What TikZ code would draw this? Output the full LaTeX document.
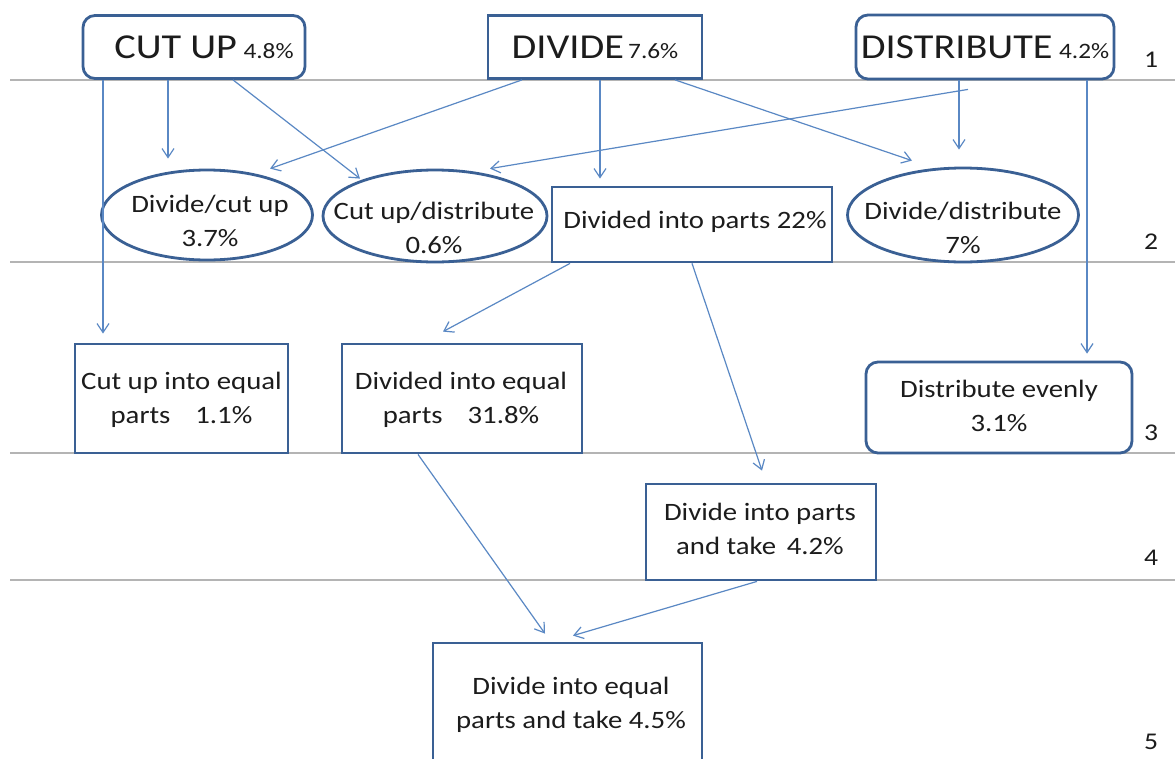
\documentclass[tikz,border=0pt]{standalone}
\usepackage{fontspec}
\setmainfont{Carlito}[FakeStretch=1.15]
\usetikzlibrary{arrows.meta,shapes.geometric}
\definecolor{boxc}{HTML}{3A6094}
\definecolor{arrc}{HTML}{5A88C4}
\definecolor{grayl}{HTML}{B4B4B4}
\definecolor{txtc}{HTML}{1C1C1C}
\tikzset{
  base/.style={draw=boxc, line width=2.8pt, fill=white, inner sep=0pt, text=txtc, align=center},
  rectbox/.style={base, rectangle},
  rbox/.style={base, rectangle, rounded corners=12pt},
  ellbox/.style={base, ellipse},
  lbl/.style={text=txtc, align=center, inner sep=0pt, font=\fontsize{25}{34}\selectfont},
  num/.style={text=txtc, inner sep=0pt, font=\fontsize{24}{26}\selectfont},
  arr/.style={draw=arrc, line width=1.2pt, -{Straight Barb[length=9pt,width=12pt]}},
  sep/.style={draw=grayl, line width=1.5pt},
}
\newcommand{\bigt}[1]{{\fontsize{35}{40}\selectfont #1}}
\newcommand{\smallt}[1]{{\fontsize{22}{24}\selectfont #1}}
\begin{document}
\begin{tikzpicture}[x=1pt,y=-1pt]
\clip (0,0) rectangle (1175,758);
\fill[white] (0,0) rectangle (1175,758);
% level separators
\coordinate (l1a) at (10,80);  \coordinate (l1b) at (1175,80);
\coordinate (l2a) at (10,262); \coordinate (l2b) at (1175,262);
\coordinate (l3a) at (10,453); \coordinate (l3b) at (1175,453);
\coordinate (l4a) at (10,580); \coordinate (l4b) at (1175,580);
\draw[sep] (l1a) -- (l1b);
\draw[sep] (l2a) -- (l2b);
\draw[sep] (l3a) -- (l3b);
\draw[sep] (l4a) -- (l4b);
% level numbers
\node[num] (n1) at (1151,60) {1};
\node[num] (n2) at (1151,242) {2};
\node[num] (n3) at (1151,433) {3};
\node[num] (n4) at (1151,558) {4};
\node[num] (n5) at (1151,742) {5};
% level 1
\node[rbox, minimum width=222pt, minimum height=63pt] (cut) at (194,47) {};
\node[lbl] (cut-t) at (204,47) {\bigt{CUT UP} \smallt{4.8\%}};
\node[rectbox, minimum width=214pt, minimum height=63pt] (div) at (595,47) {};
\node[lbl] (div-t) at (595,47) {\bigt{DIVIDE}\,\smallt{7.6\%}};
\node[rbox, minimum width=258pt, minimum height=64pt] (dist) at (985,47) {};
\node[lbl] (dist-t) at (985,47) {\bigt{DISTRIBUTE} \smallt{4.2\%}};
% level 2
\node[ellbox, minimum width=211pt, minimum height=90pt] (dcu) at (207,215) {};
\node[lbl] (dcu-t) at (210,221) {Divide/cut up\\3.7\%};
\node[ellbox, minimum width=224pt, minimum height=92pt] (cud) at (435,216) {};
\node[lbl] (cud-t) at (434,228) {Cut up/distribute\\0.6\%};
\node[rectbox, minimum width=280pt, minimum height=75pt] (dip) at (692,224.5) {};
\node[lbl] (dip-t) at (695,222) {Divided into parts 22\%};
\node[ellbox, minimum width=231pt, minimum height=94pt] (dd) at (963,215) {};
\node[lbl] (dd-t) at (963,228) {Divide/distribute\\7\%};
% level 3
\node[rectbox, minimum width=213pt, minimum height=109pt] (cue) at (181.5,398.5) {};
\node[lbl] (cue-t) at (181.5,400) {Cut up into equal\\parts\quad 1.1\%};
\node[rectbox, minimum width=240pt, minimum height=109pt] (deq) at (462,398.5) {};
\node[lbl] (deq-t) at (461,400) {Divided into equal\\parts\quad 31.8\%};
\node[rbox, minimum width=266pt, minimum height=91pt] (de) at (999,407.5) {};
\node[lbl] (de-t) at (999,406) {Distribute evenly\\3.1\%};
% level 4
\node[rectbox, minimum width=230pt, minimum height=96pt] (dpt) at (761,532) {};
\node[lbl] (dpt-t) at (760,529) {Divide into parts\\and take\, 4.2\%};
% level 5
\node[rectbox, minimum width=269pt, minimum height=130pt] (dept) at (567.5,708) {};
\node[lbl] (dept-t) at (571,705) {Divide into equal\\parts and take 4.5\%};
% connectors
\draw[arr] ([xshift=-91pt]cut.south) -- ([xshift=-78.5pt,yshift=9pt]cue.north);
\draw[arr] ([xshift=-26pt]cut.south) -- ([xshift=-39pt,yshift=10pt]dcu.north);
\draw[arr] ([xshift=39pt]cut.south) -- ([xshift=-75pt,yshift=-10pt]cud.north);
\draw[arr] ([xshift=-73pt]div.south) -- ([xshift=63pt]dcu.north);
\draw[arr] ([xshift=5pt]div.south) -- ([xshift=-92pt,yshift=7pt]dip.north);
\draw[arr] ([xshift=80pt]div.south) -- ([xshift=-51pt,yshift=6pt]dd.north);
\draw[arr] ([xshift=-17pt,yshift=-9pt]dist.south) -- ([xshift=55pt]cud.north);
\draw[arr] ([xshift=-26pt]dist.south) -- ([xshift=-4pt,yshift=17pt]dd.north);
\draw[arr] ([xshift=102pt]dist.south) -- ([xshift=88pt,yshift=7pt]de.north);
\draw[arr] ([xshift=-122pt]dip.south) -- ([xshift=-19pt,yshift=11pt]deq.north);
\draw[arr] (dip.south) -- ([xshift=1pt,yshift=12pt]dpt.north);
\draw[arr] ([xshift=-44pt]deq.south) -- ([xshift=-22.5pt,yshift=8pt]dept.north);
\draw[arr] ([xshift=-4pt]dpt.south) -- ([xshift=5.5pt,yshift=6pt]dept.north);
\end{tikzpicture}
\end{document}
